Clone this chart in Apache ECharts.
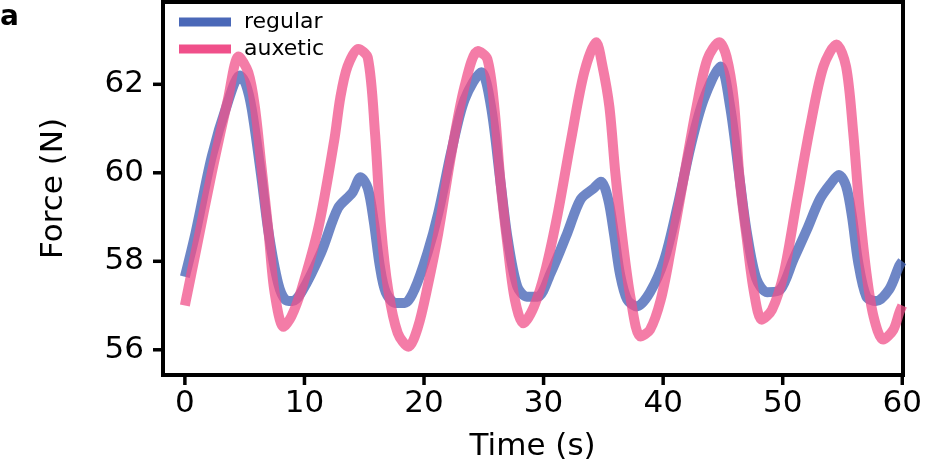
<!DOCTYPE html>
<html>
<head>
<meta charset="utf-8">
<script src="https://cdn.jsdelivr.net/npm/echarts@6/dist/echarts.min.js"></script>
<style>
  html, body { margin: 0; padding: 0; background: #fff; }
  #chart { width: 925px; height: 467px; }
</style>
</head>
<body>
<div id="chart"></div>
<script>
// values (time in s, force in N)
const regularTime = [0, 0.9, 2.25, 3.6, 4.6, 5.1, 5.6, 6.4, 7.0, 7.8, 8.4, 9.0, 9.75, 11.4, 12.8, 14.0, 14.7, 15.3, 15.8, 16.3, 16.8, 17.6, 18.4, 19.2, 20.3, 21.2, 22.3, 23.4, 24.8, 25.6, 26.4, 27.0, 27.8, 28.6, 29.5, 30.6, 32.0, 33.1, 34.2, 34.8, 35.4, 35.9, 36.4, 37.0, 37.8, 38.9, 40.1, 41.2, 42.3, 43.4, 44.8, 45.6, 46.4, 47.0, 47.8, 48.7, 49.8, 50.9, 52.0, 53.1, 54.0, 54.7, 55.3, 55.8, 56.3, 57.0, 57.8, 58.9, 59.75, 60]
const regularForce = [57.65, 58.65, 60.37, 61.6, 62.2, 62.0, 61.43, 59.9, 58.65, 57.5, 57.13, 57.1, 57.3, 58.2, 59.2, 59.55, 59.9, 59.65, 58.9, 57.9, 57.3, 57.06, 57.06, 57.36, 58.2, 59.1, 60.5, 61.66, 62.27, 61.5, 59.78, 58.5, 57.43, 57.2, 57.2, 57.74, 58.65, 59.4, 59.65, 59.8, 59.4, 58.6, 57.7, 57.13, 56.98, 57.3, 58.04, 59.24, 60.6, 61.66, 62.4, 61.5, 59.85, 58.65, 57.6, 57.3, 57.36, 58.04, 58.7, 59.4, 59.75, 59.95, 59.7, 59.0, 58.0, 57.2, 57.1, 57.36, 57.9, 58.0]

const auxeticTime = [0, 0.9, 2.25, 3.6, 4.5, 5.3, 5.85, 6.4, 7.0, 7.5, 8.25, 8.9, 9.75, 11.2, 12.5, 13.0, 13.6, 14.5, 15.3, 15.9, 16.4, 17.0, 17.8, 18.7, 19.5, 20.3, 21.2, 22.3, 23.4, 24.5, 25.3, 25.9, 26.4, 27.0, 27.6, 28.3, 29.2, 30.1, 31.2, 32.3, 33.4, 34.4, 34.9, 35.5, 36.0, 36.6, 37.3, 38.1, 38.9, 39.8, 40.6, 41.7, 42.8, 43.7, 44.7, 45.3, 45.9, 46.4, 47.0, 47.6, 48.25, 49.1, 50.1, 51.2, 52.3, 53.4, 54.5, 55.3, 55.9, 56.4, 57.0, 57.6, 58.4, 59.25, 59.75, 60]
const auxeticForce = [57.0, 58.2, 60.0, 61.66, 62.63, 62.27, 61.5, 60.15, 58.65, 57.3, 56.52, 56.75, 57.36, 58.8, 60.75, 61.7, 62.4, 62.8, 62.6, 60.9, 58.8, 57.36, 56.38, 56.07, 56.52, 57.43, 58.65, 60.45, 61.96, 62.75, 62.57, 61.43, 59.78, 58.33, 57.13, 56.6, 56.98, 57.74, 59.1, 60.75, 62.27, 62.95, 62.45, 61.5, 60.0, 58.5, 57.13, 56.3, 56.45, 57.13, 58.2, 59.85, 61.5, 62.57, 62.95, 62.63, 61.66, 59.85, 58.5, 57.3, 56.68, 56.9, 57.74, 59.4, 61.05, 62.4, 62.9, 62.4, 60.9, 59.24, 57.74, 56.75, 56.23, 56.45, 56.84, 57.0]

const xTicks = [0, 10, 20, 30, 40, 50, 60]
const yTicks = [56, 58, 60, 62]
const xRange = [-1.83, 60]
const yRange = [55.43, 63.86]

const font = 'DejaVu Sans'
const pair = (xs, ys) => xs.map((x, i) => [x, ys[i]])

const chart = echarts.init(document.getElementById('chart'))

const frameLine = { show: true, onZero: false, lineStyle: { color: '#000', width: 4, cap: 'square' } }

// top/right axes only draw the frame
const frameAxis = (range, position) => ({
  type: 'value', position, min: range[0], max: range[1],
  axisLine: frameLine, axisTick: { show: false }, axisLabel: { show: false }, splitLine: { show: false }
})

chart.setOption({
  animation: false,
  textStyle: { fontFamily: font },
  grid: { left: 163, right: 20, top: 2, bottom: 92 },
  legend: {
    orient: 'vertical',
    left: 174, top: 6,
    icon: 'rect',
    itemWidth: 52, itemHeight: 9, itemGap: 5,
    textStyle: { fontFamily: font, fontSize: 22, color: '#000', padding: [0, 0, 0, 8] },
    data: ['regular', 'auxetic']
  },
  xAxis: [
    {
      type: 'value', position: 'bottom',
      min: xRange[0], max: xRange[1],
      name: 'Time (s)', nameLocation: 'middle', nameGap: 56,
      nameTextStyle: { fontFamily: font, fontSize: 31, color: '#000' },
      axisLine: frameLine,
      axisTick: { show: false },
      axisLabel: { customValues: xTicks, margin: 13, fontFamily: font, fontSize: 31, color: '#000' },
      splitLine: { show: false }
    },
    frameAxis(xRange, 'top')
  ],
  yAxis: [
    {
      type: 'value', position: 'left',
      min: yRange[0], max: yRange[1],
      name: 'Force (N)', nameLocation: 'middle', nameGap: 94, nameRotate: 90,
      nameTextStyle: { fontFamily: font, fontSize: 31, color: '#000' },
      axisLine: frameLine,
      axisTick: { show: false },
      axisLabel: { customValues: yTicks, margin: 19, fontFamily: font, fontSize: 31, color: '#000' },
      splitLine: { show: false }
    },
    frameAxis(yRange, 'right')
  ],
  series: [
    {
      name: 'regular',
      type: 'line',
      data: pair(regularTime, regularForce),
      showSymbol: false,
      smooth: 0.3,
      color: '#4a68b8',
      lineStyle: { width: 10, opacity: 0.8 },
      z: 2
    },
    {
      name: 'auxetic',
      type: 'line',
      data: pair(auxeticTime, auxeticForce),
      showSymbol: false,
      smooth: 0.3,
      color: '#f0508a',
      lineStyle: { width: 10, opacity: 0.75 },
      z: 3
    }
  ]
})

// outward tick marks, positioned through the axis scales
const tickStyle = { stroke: '#000', lineWidth: 3.5 }
const ticks = []
xTicks.forEach(v => {
  const p = chart.convertToPixel({ gridIndex: 0 }, [v, yRange[0]])
  ticks.push({ type: 'line', z: 100, shape: { x1: p[0], y1: p[1], x2: p[0], y2: p[1] + 10 }, style: tickStyle })
})
yTicks.forEach(v => {
  const p = chart.convertToPixel({ gridIndex: 0 }, [xRange[0], v])
  ticks.push({ type: 'line', z: 100, shape: { x1: p[0] - 10, y1: p[1], x2: p[0], y2: p[1] }, style: tickStyle })
})

chart.setOption({
  graphic: [
    { type: 'text', left: 0, top: 4, style: { text: 'a', font: 'bold 28px DejaVu Sans', fill: '#000' } },
    ...ticks
  ]
})
</script>
</body>
</html>
